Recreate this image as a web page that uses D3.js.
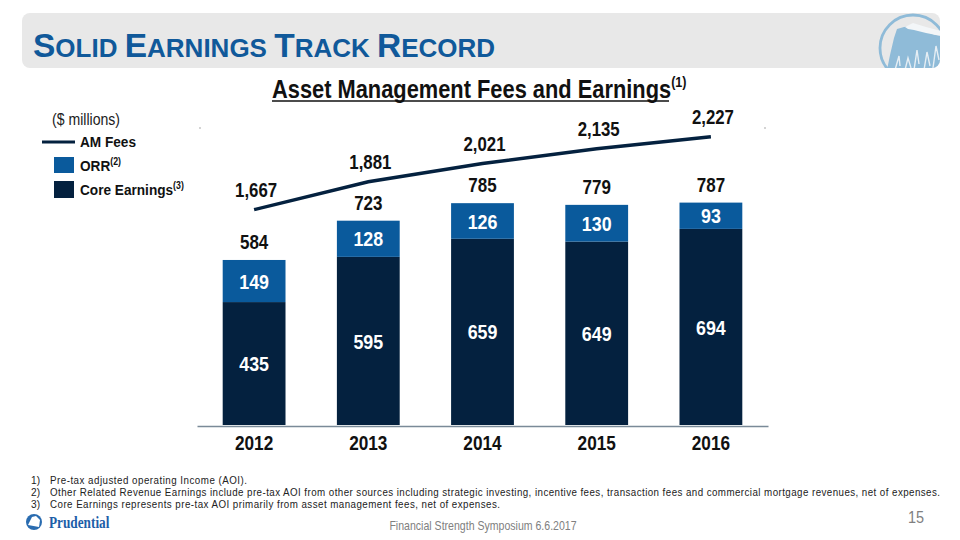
<!DOCTYPE html>
<html><head><meta charset="utf-8">
<script src="https://cdn.jsdelivr.net/npm/d3@7"></script>
<style>
body{margin:0;background:#fff;}
svg{display:block;}
</style></head>
<body>
<svg id="chart" width="960" height="540"></svg>
<script>
const years = ["2012","2013","2014","2015","2016"];
const coreEarnings = [435,595,659,649,694];
const orr = [149,128,126,130,93];
const totals = [584,723,785,779,787];
const amFees = [1667,1881,2021,2135,2227];
const footnotes = [
  ["1)","Pre-tax adjusted operating Income (AOI)."],
  ["2)","Other Related Revenue Earnings include pre-tax AOI from other sources including strategic investing, incentive fees, transaction fees and commercial mortgage revenues, net of expenses."],
  ["3)","Core Earnings represents pre-tax AOI primarily from asset management fees, net of expenses."]
];
const footnoteWidths = [197, 890, 450];

const NAVY = "#04213f", BLUE = "#0a5a9c", TITLE = "#10599a";
const sans = "'Liberation Sans',Arial,sans-serif";
const svg = d3.select("#chart");

// condensed text helper
function nt(parent, x, y, size, sx, txt, opts={}) {
  const t = parent.append("text")
    .attr("transform", `translate(${x},${y}) scale(${sx},1)`)
    .attr("font-family", sans).attr("font-size", size)
    .attr("font-weight", opts.weight || "bold")
    .attr("fill", opts.fill || "#111")
    .attr("text-anchor", opts.anchor || "start");
  if (opts.dy) t.attr("dy", opts.dy);
  if (txt !== null) t.text(txt);
  return t;
}

// Banner
const defs = svg.append("defs");
defs.append("clipPath").attr("id","bannerClip").append("rect")
  .attr("x",22).attr("y",13).attr("width",918).attr("height",55).attr("rx",8);
svg.append("rect").attr("x",22).attr("y",13).attr("width",918).attr("height",55).attr("rx",8).attr("fill","#e8e8e8");
const logo = svg.append("g").attr("clip-path","url(#bannerClip)");
const LB = "#8fbbd8";
logo.append("circle").attr("cx",913).attr("cy",48).attr("r",33).attr("fill","none").attr("stroke",LB).attr("stroke-width",2.8);
logo.append("path").attr("d","M887,70 L890,55 L894,38 L897,29 L904,27 L913,26 L922,30 L935,35 L945,36 L945,70 Z").attr("fill",LB);
logo.append("path").attr("d","M905,27 L913,23 L926,27 L941,31 L941,36 L926,33 L914,30 L908,29 Z").attr("fill","#f3f6f8");
logo.append("path").attr("d","M895,70 L899,56 L900,66 M905,70 L908,58 L911,68 M914,70 L917,50 L919,64 M924,70 L927,52 L930,66 M933,68 L936,46 L939,60")
  .attr("stroke","#e6eef4").attr("stroke-width",1.4).attr("fill","none");

const title = svg.append("text").attr("x",33).attr("y",57).attr("fill",TITLE)
  .attr("font-family",sans).attr("font-weight","bold");
[["S","OLID "],["E","ARNINGS "],["T","RACK "],["R","ECORD"]].forEach(([a,b])=>{
  title.append("tspan").attr("font-size",33.5).text(a);
  title.append("tspan").attr("font-size",26).text(b);
});

// Subtitle
const sub = nt(svg, 272, 98, 26, 0.84, null);
sub.append("tspan").text("Asset Management Fees and Earnings");
sub.append("tspan").attr("font-size",15).attr("dy",-11).text("(1)");
svg.append("line").attr("x1",272).attr("x2",669).attr("y1",101).attr("y2",101).attr("stroke","#111").attr("stroke-width",1.5);

// Scales
const x = d3.scaleBand().domain(years).range([197,768]).paddingInner(0.45).paddingOuter(0.225);
const yBar = d3.scaleLinear().domain([0,1051]).range([425,128]);
const yLine = d3.scaleLinear().domain([0,2278]).range([427,130]);

svg.append("circle").attr("cx",200).attr("cy",128).attr("r",0.7).attr("fill","#888");
svg.append("circle").attr("cx",765).attr("cy",128).attr("r",0.7).attr("fill","#888");

const g = svg.append("g");
years.forEach((yr,i)=>{
  const bx = x(yr), bw = x.bandwidth(), cx = bx + bw/2;
  g.append("rect").attr("x",bx).attr("width",bw).attr("y",yBar(coreEarnings[i])).attr("height",yBar(0)-yBar(coreEarnings[i])).attr("fill",NAVY);
  g.append("rect").attr("x",bx).attr("width",bw).attr("y",yBar(coreEarnings[i]+orr[i])).attr("height",yBar(coreEarnings[i])-yBar(coreEarnings[i]+orr[i])).attr("fill",BLUE);
  nt(g, cx, (yBar(coreEarnings[i])+yBar(0))/2, 21, 0.85, coreEarnings[i], {anchor:"middle", fill:"#fff", dy:"0.36em"});
  nt(g, cx, (yBar(coreEarnings[i])+yBar(coreEarnings[i]+orr[i]))/2, 21, 0.85, orr[i], {anchor:"middle", fill:"#fff", dy:"0.36em"});
  nt(g, cx, yBar(totals[i])-18, 20, 0.85, totals[i], {anchor:"middle", dy:"0.36em"});
  nt(g, cx+2, yLine(amFees[i])-20, 21, 0.8, d3.format(",")(amFees[i]), {anchor:"middle", dy:"0.36em"});
});

// Axis
const xAxis = svg.append("g").attr("transform","translate(0,426)").call(d3.axisBottom(x).tickSize(0).tickPadding(9));
xAxis.select(".domain").attr("stroke","#7a8a98").attr("stroke-width",1.5);
xAxis.selectAll(".tick text")
  .attr("font-family",sans).attr("font-weight","bold").attr("font-size",21).attr("fill","#111")
  .attr("transform","scale(0.82,1)")
  .attr("x", 0);

// Line
const line = d3.line().x((d,i)=>x(years[i])+x.bandwidth()/2).y(d=>yLine(d));
svg.append("path").datum(amFees).attr("d",line).attr("fill","none").attr("stroke",NAVY).attr("stroke-width",3.5);

// Legend
const lg = svg.append("g");
nt(lg, 52, 125, 16, 0.88, "($ millions)", {weight:"normal", fill:"#222"});
lg.append("line").attr("x1",42).attr("x2",75).attr("y1",142).attr("y2",142).attr("stroke",NAVY).attr("stroke-width",3);
nt(lg, 80, 147, 15.5, 0.88, "AM Fees");
lg.append("rect").attr("x",54).attr("y",157).attr("width",20).attr("height",16).attr("fill",BLUE);
const t1 = nt(lg, 80, 171, 15.5, 0.88, null);
t1.append("tspan").text("ORR"); t1.append("tspan").attr("font-size",10).attr("dy",-6).text("(2)");
lg.append("rect").attr("x",54).attr("y",181).attr("width",20).attr("height",17).attr("fill",NAVY);
const t2 = nt(lg, 80, 195, 15.5, 0.88, null);
t2.append("tspan").text("Core Earnings"); t2.append("tspan").attr("font-size",10).attr("dy",-6).text("(3)");

// Footnotes
footnotes.forEach((f,i)=>{
  const yy = 484 + i*12;
  nt(svg, 31, yy, 11.5, 0.88, f[0], {weight:"normal", fill:"#222"});
  nt(svg, 50, yy, 11.5, 0.85, f[1], {weight:"normal", fill:"#222"})
    .attr("textLength", footnoteWidths[i]/0.85).attr("lengthAdjust","spacing");
});
// Footer
nt(svg, 483, 530, 12, 0.88, "Financial Strength Symposium 6.6.2017", {weight:"normal", fill:"#808080", anchor:"middle"});
nt(svg, 916, 523, 17, 0.85, "15", {weight:"normal", fill:"#808080", anchor:"middle"});
// Prudential logo
const pl = svg.append("g");
pl.append("circle").attr("cx",34).attr("cy",522).attr("r",8).attr("fill","#2a6cb0");
pl.append("path").attr("d","M28,525 L32,517 L36,516 L40,520 L39,527 Z").attr("fill","#fff");
pl.append("text").attr("transform","translate(49,528) scale(0.78,1)")
  .attr("font-family","'Liberation Serif','Times New Roman',serif").attr("font-weight","bold").attr("font-size",17).attr("fill","#1d5ea8").text("Prudential");
</script>
</body></html>
